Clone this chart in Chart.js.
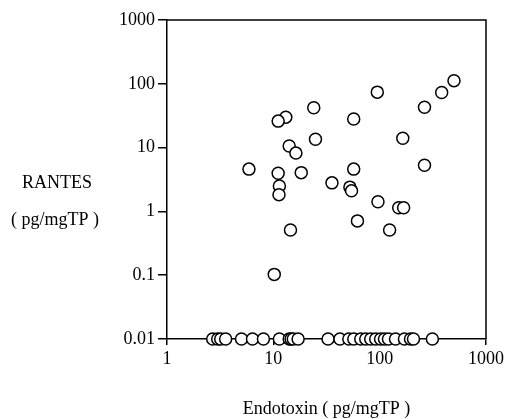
<!DOCTYPE html>
<html>
<head>
<meta charset="utf-8">
<script src="https://cdn.jsdelivr.net/npm/chart.js@4"></script>
<style>
    html, body { margin: 0; padding: 0; background: #fff; }
    #grafico { display: block; }
</style>
</head>
<body>
<canvas id="grafico" width="507" height="419"></canvas>
<script>
// Datos
const endotoxinaDetectada = [500, 383, 264, 95, 24, 57, 13.1, 11.1, 24.9, 165, 14.1, 16.3, 5.9, 11.1, 18.3, 57, 264, 11.4, 35.6, 52.5, 54.4, 11.3, 96.4, 151, 168, 61.8, 14.5, 124, 10.2];
const rantesDetectado = [112, 73, 43, 74, 42, 28, 30, 26, 13.5, 14, 10.6, 8.2, 4.6, 3.95, 4.05, 4.6, 5.3, 2.5, 2.8, 2.4, 2.1, 1.83, 1.42, 1.14, 1.14, 0.71, 0.51, 0.51, 0.103];

// Muestras con RANTES bajo el limite (se dibujan en 0.01)
const endotoxinaBajoLimite = [2.69, 3.0, 3.2, 3.56, 5.02, 6.37, 8.07, 11.4, 14.1, 14.7, 15.4, 17.1, 32.7, 42.3, 51.3, 57.1, 66.4, 74.0, 82.4, 91.8, 102, 111, 121, 141, 171, 195, 208, 313];
const rantesBajoLimite = 0.01;

// Ticks de los ejes
const ticksX = [1, 10, 100, 1000];
const etiquetasX = ['1', '10', '100', '1000'];
const ticksY = [0.01, 0.1, 1, 10, 100, 1000];
const etiquetasY = ['0.01', '0.1', '1', '10', '100', '1000'];

const tituloX = 'Endotoxin ( pg/mgTP )';
const tituloY = ['RANTES', '( pg/mgTP )'];

const FUENTE = '"Liberation Serif", "DejaVu Serif", serif';

const puntos = endotoxinaDetectada.map((x, i) => ({ x: x, y: rantesDetectado[i] }))
    .concat(endotoxinaBajoLimite.map(x => ({ x: x, y: rantesBajoLimite })));

// Marco superior/derecho y titulos de los ejes
const pluginMarco = {
    id: 'marco',
    beforeDatasetsDraw(chart) {
        const { ctx, chartArea } = chart;
        ctx.save();
        ctx.strokeStyle = '#000';
        ctx.lineWidth = 1.5;
        ctx.beginPath();
        ctx.moveTo(chartArea.left, chartArea.top);
        ctx.lineTo(chartArea.right, chartArea.top);
        ctx.lineTo(chartArea.right, chartArea.bottom);
        ctx.stroke();
        ctx.restore();
    },
    afterDraw(chart) {
        const { ctx, chartArea } = chart;
        ctx.save();
        ctx.fillStyle = '#000';
        ctx.font = '18px ' + FUENTE;
        ctx.textAlign = 'center';
        ctx.textBaseline = 'middle';
        ctx.fillText(tituloX, (chartArea.left + chartArea.right) / 2, 409);
        ctx.fillText(tituloY[0], 57, 183);
        ctx.fillText(tituloY[1], 55, 220);
        ctx.restore();
    }
};

function fijarTicks(valores) {
    return function(scale) {
        scale.ticks = valores.map(v => ({ value: v }));
    };
}

new Chart(document.getElementById('grafico'), {
    type: 'scatter',
    data: {
        datasets: [{
            data: puntos,
            pointRadius: 6,
            pointHoverRadius: 6,
            pointBorderWidth: 1.5,
            pointBorderColor: '#000',
            pointBackgroundColor: '#fff',
            clip: false
        }]
    },
    options: {
        responsive: false,
        animation: false,
        layout: { padding: { top: 20, right: 19, left: 0, bottom: 0 } },
        plugins: {
            legend: { display: false },
            tooltip: { enabled: false }
        },
        scales: {
            x: {
                type: 'logarithmic',
                min: 1,
                max: 1000,
                afterBuildTicks: fijarTicks(ticksX),
                afterFit: s => { s.height = 80; },
                border: { display: true, color: '#000', width: 1.5 },
                grid: { display: true, drawOnChartArea: false, drawTicks: true, tickLength: 6, color: '#000', lineWidth: 1.5 },
                ticks: {
                    color: '#000',
                    font: { family: FUENTE, size: 18 },
                    padding: 3,
                    maxRotation: 0,
                    autoSkip: false,
                    callback: (v, i) => etiquetasX[i]
                }
            },
            y: {
                type: 'logarithmic',
                min: 0.01,
                max: 1000,
                afterBuildTicks: fijarTicks(ticksY),
                afterFit: s => { s.width = 167; },
                border: { display: true, color: '#000', width: 1.5 },
                grid: { display: true, drawOnChartArea: false, drawTicks: true, tickLength: 9, color: '#000', lineWidth: 1.5 },
                ticks: {
                    color: '#000',
                    font: { family: FUENTE, size: 18 },
                    padding: 3,
                    autoSkip: false,
                    callback: (v, i) => etiquetasY[i]
                }
            }
        }
    },
    plugins: [pluginMarco]
});
</script>
</body>
</html>
